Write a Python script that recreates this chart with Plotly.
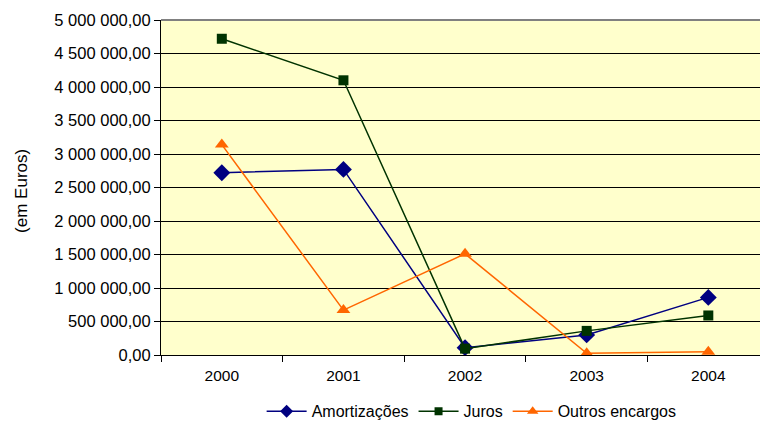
import plotly.graph_objects as go

# Annual debt service breakdown (euros)
anos = ["2000", "2001", "2002", "2003", "2004"]
amortizacoes = [2720000, 2770000, 110000, 300000, 860000]
juros = [4720000, 4100000, 95000, 360000, 590000]
outros_encargos = [3140000, 670000, 1510000, 25000, 50000]

y_ticks = [0, 500000, 1000000, 1500000, 2000000, 2500000,
           3000000, 3500000, 4000000, 4500000, 5000000]

FONT = "Arial, Liberation Sans, sans-serif"
x = list(range(len(anos)))

series = [
    ("Amortizações", amortizacoes, "#000080", "diamond", 13, 10),
    ("Juros", juros, "#003300", "square", 10, 8),
    ("Outros encargos", outros_encargos, "#FF6600", "triangle-up", 12, 10),
]

fig = go.Figure()
for name, values, color, symbol, size, legend_size in series:
    fig.add_trace(go.Scatter(
        x=x, y=values, name=name, mode="lines+markers", showlegend=False,
        line=dict(color=color, width=1.5),
        marker=dict(symbol=symbol, size=size, color=color),
    ))
    # legend entry with the smaller key marker
    fig.add_trace(go.Scatter(
        x=[None], y=[None], name=name, mode="lines+markers",
        line=dict(color=color, width=1.5),
        marker=dict(symbol=symbol, size=legend_size, color=color),
    ))

fig.update_layout(
    width=760, height=421,
    margin=dict(l=161, r=0, t=20, b=66, autoexpand=False),
    paper_bgcolor="white",
    plot_bgcolor="#FFFFCC",
    separators=", ",
    font=dict(family=FONT, size=15, color="#000000"),
    showlegend=True,
    legend=dict(
        orientation="h", x=0.168, xanchor="left", y=-0.168, yanchor="middle",
        font=dict(family=FONT, size=16, color="#000000"),
        bgcolor="rgba(0,0,0,0)", itemwidth=40, tracegroupgap=0,
    ),
    xaxis=dict(
        range=[-0.5, 4.425],
        tickmode="array", tickvals=x, ticktext=anos,
        ticks="", showgrid=False, zeroline=False,
        showline=True, linecolor="#000000", linewidth=1,
        minor=dict(tick0=-0.5, dtick=1, ticks="outside", ticklen=6,
                   tickcolor="#000000", tickwidth=1, showgrid=False),
        tickfont=dict(family=FONT, size=15.5, color="#000000"),
        ticklabelstandoff=6,
        automargin=False,
        fixedrange=True,
    ),
    yaxis=dict(
        range=[0, 5000000],
        tickmode="array", tickvals=y_ticks, tickformat=",.2f",
        ticks="outside", ticklen=6, tickcolor="#000000",
        showgrid=True, gridcolor="#000000", gridwidth=1,
        zeroline=False, showline=True, linecolor="#000000", linewidth=1,
        tickfont=dict(family=FONT, size=16.5, color="#000000"),
        automargin=False,
        fixedrange=True,
    ),
)

# grey top border of the plot area
fig.add_shape(type="line", xref="paper", yref="paper", x0=0, x1=1, y0=1, y1=1,
              line=dict(color="#808080", width=2))

fig.add_annotation(
    text="(em Euros)", xref="paper", yref="paper",
    x=-0.232, y=0.49, xanchor="center", yanchor="middle",
    textangle=-90, showarrow=False,
    font=dict(family=FONT, size=17, color="#000000"),
)

fig.write_html("out.html")
